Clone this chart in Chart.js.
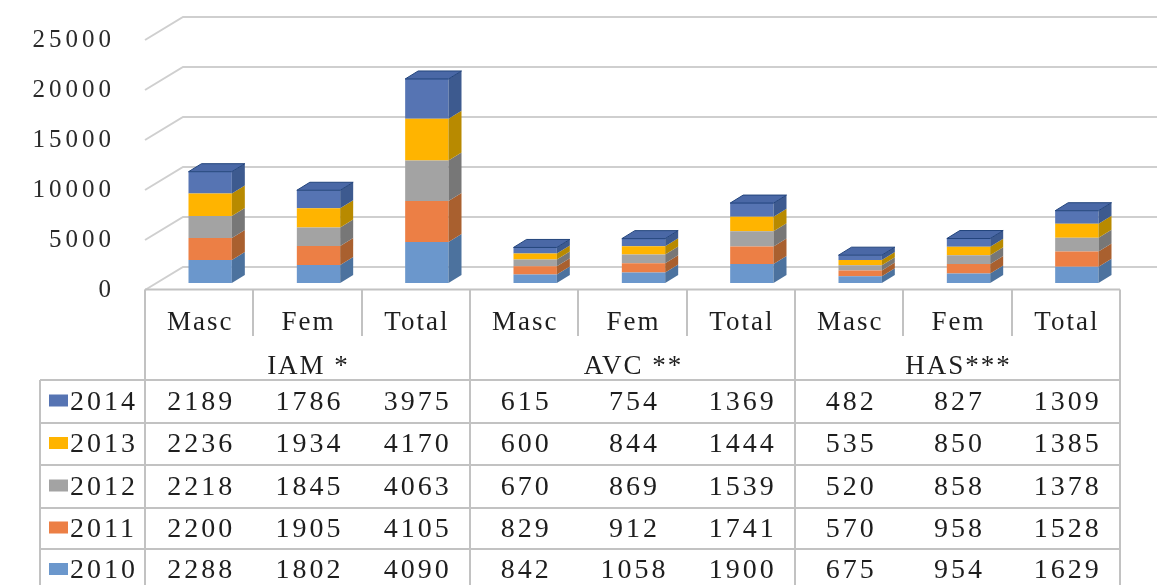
<!DOCTYPE html>
<html>
<head>
<meta charset="utf-8">
<script src="https://cdn.jsdelivr.net/npm/chart.js@4.4.1/dist/chart.umd.min.js"></script>
<style>
  body { margin: 0; background: #fff; }
  #wrap { position: relative; width: 1157px; height: 585px; }
</style>
</head>
<body>
<div id="wrap"><canvas id="myChart"></canvas></div>
<script>
// data
const categories = ['Masc', 'Fem', 'Total', 'Masc', 'Fem', 'Total', 'Masc', 'Fem', 'Total'];
const groups = ['IAM *', 'AVC **', 'HAS***'];
const years = ['2010', '2011', '2012', '2013', '2014'];
const v2010 = [2288, 1802, 4090, 842, 1058, 1900, 675, 954, 1629];
const v2011 = [2200, 1905, 4105, 829, 912, 1741, 570, 958, 1528];
const v2012 = [2218, 1845, 4063, 670, 869, 1539, 520, 858, 1378];
const v2013 = [2236, 1934, 4170, 600, 844, 1444, 535, 850, 1385];
const v2014 = [2189, 1786, 3975, 615, 754, 1369, 482, 827, 1309];
const yTicks = [0, 5000, 10000, 15000, 20000, 25000];

const fronts = ['#6b97cc', '#ec7f45', '#a3a3a3', '#ffb400', '#5674b3'];
const sides = ['#4c729e', '#a9602f', '#777777', '#b88a00', '#3d5a8f'];
const seriesValues = [v2010, v2011, v2012, v2013, v2014];

const serif = '"Liberation Serif", "Times New Roman", serif';
const DX = 13, DY = 8, SHIFT = 11;

const ctx = document.getElementById('myChart').getContext('2d');

const chart3d = {
  id: 'chart3d',
  beforeDraw(chart) {
    const c = chart.ctx, y = chart.scales.y, area = chart.chartArea;
    c.save();
    c.strokeStyle = '#cfcfcf';
    c.lineWidth = 2;
    yTicks.forEach(v => {
      const py = y.getPixelForValue(v);
      c.beginPath();
      c.moveTo(area.left, py + 7);
      c.lineTo(area.left + 38, py - 16);
      c.lineTo(chart.width, py - 16);
      c.stroke();
    });
    c.restore();
    c.letterSpacing = '4px';
  },
  beforeDatasetsDraw(chart) {
    chart.ctx.save();
    chart.ctx.translate(SHIFT, 0);
  },
  afterDatasetsDraw(chart) {
    const c = chart.ctx;
    chart.data.datasets.forEach((ds, di) => {
      const meta = chart.getDatasetMeta(di);
      meta.data.forEach(bar => {
        const p = bar.getProps(['x', 'y', 'base', 'width'], true);
        const l = p.x - p.width / 2, r = p.x + p.width / 2;
        c.fillStyle = sides[di];
        c.beginPath();
        c.moveTo(r, p.y);
        c.lineTo(r + DX, p.y - DY);
        c.lineTo(r + DX, p.base - DY);
        c.lineTo(r, p.base);
        c.closePath();
        c.fill();
        if (di === chart.data.datasets.length - 1) {
          c.fillStyle = '#4a68a6';
          c.strokeStyle = '#22447c';
          c.lineWidth = 1;
          c.beginPath();
          c.moveTo(l, p.y);
          c.lineTo(l + DX, p.y - DY);
          c.lineTo(r + DX, p.y - DY);
          c.lineTo(r, p.y);
          c.closePath();
          c.fill();
          c.stroke();
        }
      });
    });
    c.restore();
  },
  afterDraw(chart) {
    const c = chart.ctx, x = chart.scales.x, area = chart.chartArea;
    const w = (area.right - area.left) / categories.length;
    const top = 289.5, catBot = 336, grpBot = 380;
    const rowLines = [380, 423, 465, 508, 549];
    const bottom = chart.height;
    c.save();
    c.strokeStyle = '#c2c2c2';
    c.lineWidth = 2;
    c.beginPath();
    c.moveTo(area.left, top); c.lineTo(area.right, top);
    rowLines.forEach(ry => { c.moveTo(40, ry); c.lineTo(area.right, ry); });
    c.moveTo(40, grpBot); c.lineTo(40, bottom);
    for (let i = 0; i <= categories.length; i++) {
      const px = Math.round(area.left + i * w);
      c.moveTo(px, top);
      c.lineTo(px, i % 3 === 0 ? bottom : catBot);
    }
    c.stroke();

    c.fillStyle = '#1e1e1e';
    c.textAlign = 'center';
    c.textBaseline = 'middle';
    c.letterSpacing = '2px';
    c.font = '27px ' + serif;
    categories.forEach((lab, i) => {
      c.fillText(lab, x.getPixelForValue(i) + 1, 323);
    });
    groups.forEach((g, gi) => {
      c.fillText(g, area.left + (gi * 3 + 1.5) * w + 1, 367);
    });
    c.font = '28px ' + serif;
    c.letterSpacing = '3px';
    // table rows: 2014 at top down to 2010
    for (let r = 0; r < years.length; r++) {
      const si = years.length - 1 - r;
      const cy = (rowLines[r] + (rowLines[r + 1] || 591)) / 2 + 1;
      seriesValues[si].forEach((v, i) => {
        c.fillText(String(v), x.getPixelForValue(i) + 2, cy);
      });
      c.fillStyle = fronts[si];
      c.fillRect(49, cy - 8, 19, 12);
      c.fillStyle = '#1e1e1e';
      c.textAlign = 'left';
      c.fillText(years[si], 70, cy);
      c.textAlign = 'center';
    }
    c.restore();
    c.letterSpacing = '0px';
  }
};

new Chart(ctx, {
  type: 'bar',
  data: {
    labels: categories,
    datasets: years.map((yr, i) => ({
      label: yr,
      data: seriesValues[i],
      backgroundColor: fronts[i],
      borderWidth: 0
    }))
  },
  options: {
    responsive: true,
    maintainAspectRatio: false,
    animation: false,
    layout: { padding: { left: 0, right: 37, top: 33, bottom: 302 } },
    plugins: { legend: { display: false }, tooltip: { enabled: false } },
    datasets: { bar: { categoryPercentage: 1, barPercentage: 0.4 } },
    scales: {
      x: { stacked: true, display: false },
      y: {
        stacked: true,
        min: 0,
        max: 25000,
        afterFit: s => {
          s.width = 145;
          s.paddingTop = 0;
          s.paddingBottom = 0;
        },
        grid: { display: false },
        border: { display: false },
        ticks: {
          stepSize: 5000,
          padding: 22,
          labelOffset: 7,
          color: '#2a2a2a',
          font: { family: serif, size: 25 },
          callback: v => String(v)
        }
      }
    }
  },
  plugins: [chart3d]
});
</script>
</body>
</html>
